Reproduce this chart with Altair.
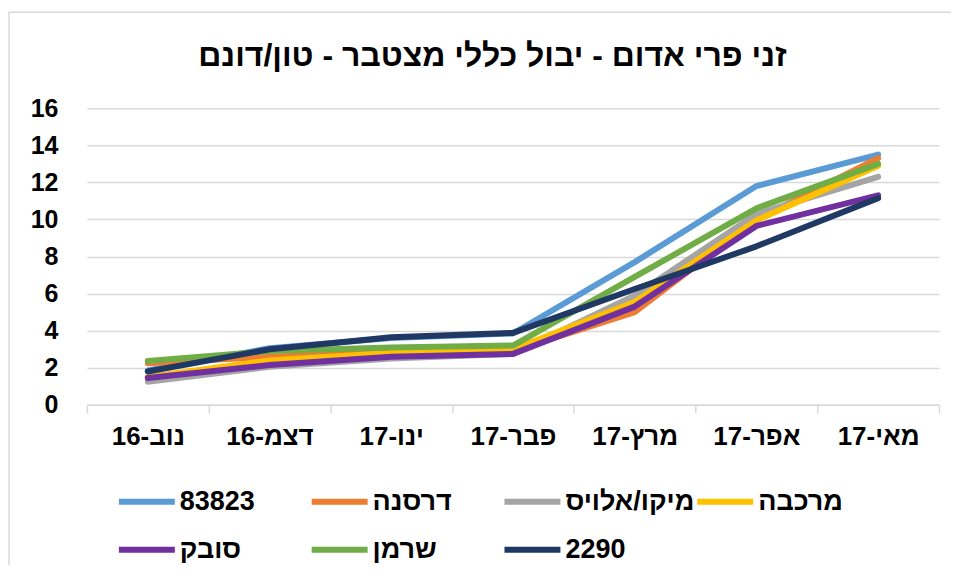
import altair as alt
import pandas as pd

title_text = "זני פרי אדום - יבול כללי מצטבר - טון/דונם"
months = ["נוב-16", "דצמ-16", "ינו-17", "פבר-17", "מרץ-17", "אפר-17", "מאי-17"]
series = ["83823", "דרסנה", "מיקו/אלויס", "מרכבה", "סובק", "שרמן", "2290"]
colors = ["#5B9BD5", "#ED7D31", "#A5A5A5", "#FFC000", "#7030A0", "#70AD47", "#203864"]

v_83823 = [1.85, 3.05, 3.6, 3.85, 7.7, 11.8, 13.5]
v_darsana = [2.25, 2.6, 2.85, 2.9, 5.0, 10.0, 13.3]
v_miko = [1.25, 2.05, 2.5, 2.75, 5.9, 10.3, 12.3]
v_merkava = [1.5, 2.4, 2.8, 3.0, 5.55, 9.95, 12.9]
v_sovek = [1.45, 2.15, 2.6, 2.75, 5.3, 9.65, 11.3]
v_sherman = [2.37, 2.9, 3.1, 3.2, 6.9, 10.6, 13.0]
v_2290 = [1.8, 3.0, 3.65, 3.88, 6.25, 8.55, 11.15]

values = [v_83823, v_darsana, v_miko, v_merkava, v_sovek, v_sherman, v_2290]

rows = []
for si, (name, vals) in enumerate(zip(series, values)):
    for mi, (m, v) in enumerate(zip(months, vals)):
        rows.append({"month": m, "series": name, "value": v, "s": si, "m": mi})
df = pd.DataFrame(rows)

FONT = "Liberation Sans"

lines = alt.Chart(df).mark_line(strokeWidth=6, strokeCap="round", strokeJoin="round").encode(
    x=alt.X("month:N", sort=months, title=None,
            scale=alt.Scale(type="band", paddingInner=0, paddingOuter=0),
            axis=alt.Axis(labelAngle=0, tickBand="extent", tickSize=8, tickColor="#D9D9D9",
                          tickWidth=1.5, domainColor="#D9D9D9", domainWidth=1.5,
                          labelFontSize=26, labelFontWeight="bold", labelFont=FONT,
                          labelColor="#000000", labelPadding=11, grid=False)),
    y=alt.Y("value:Q", title=None,
            scale=alt.Scale(domain=[0, 16], nice=False, zero=True),
            axis=alt.Axis(values=list(range(0, 17, 2)), domain=False, ticks=False, tickSize=0,
                          labelFontSize=25, labelFontWeight="bold", labelFont=FONT,
                          labelColor="#000000", labelPadding=29,
                          gridColor="#D9D9D9", gridWidth=1.5)),
    color=alt.Color("series:N", sort=series,
                    scale=alt.Scale(domain=series, range=colors),
                    legend=alt.Legend(title=None, orient="none", legendX=29, legendY=363,
                                      direction="horizontal",
                                      columns=4, symbolType="stroke", symbolSize=3136,
                                      symbolStrokeWidth=6, labelFontSize=27,
                                      labelFontWeight="bold", labelFont=FONT,
                                      labelColor="#000000", labelOffset=2,
                                      columnPadding=-15, rowPadding=4, gridAlign="all",
                                      labelLimit=400, padding=0)),
    order=alt.Order("m:Q"),
    detail="s:N",
)

frame = alt.Chart(pd.DataFrame({"a": [0]})).mark_rect(
    fill=None, stroke="#D9D9D9", strokeWidth=1.5, clip=False
).encode(x=alt.value(-78), x2=alt.value(868), y=alt.value(-96), y2=alt.value(490))

title = alt.Chart(pd.DataFrame({"t": [title_text]})).mark_text(
    font=FONT, fontSize=32, fontWeight="bold", color="#000000",
    align="center", baseline="alphabetic"
).encode(text="t:N", x=alt.value(406), y=alt.value(-42))

chart = alt.layer(frame, lines, title).properties(
    width=853, height=297,
    autosize=alt.AutoSizeParams(type="none"),
    padding={"left": 79, "top": 100, "right": 12, "bottom": 160},
).configure_view(stroke=None)

chart.save("out.html", embed_options={"renderer": "svg", "actions": False})
